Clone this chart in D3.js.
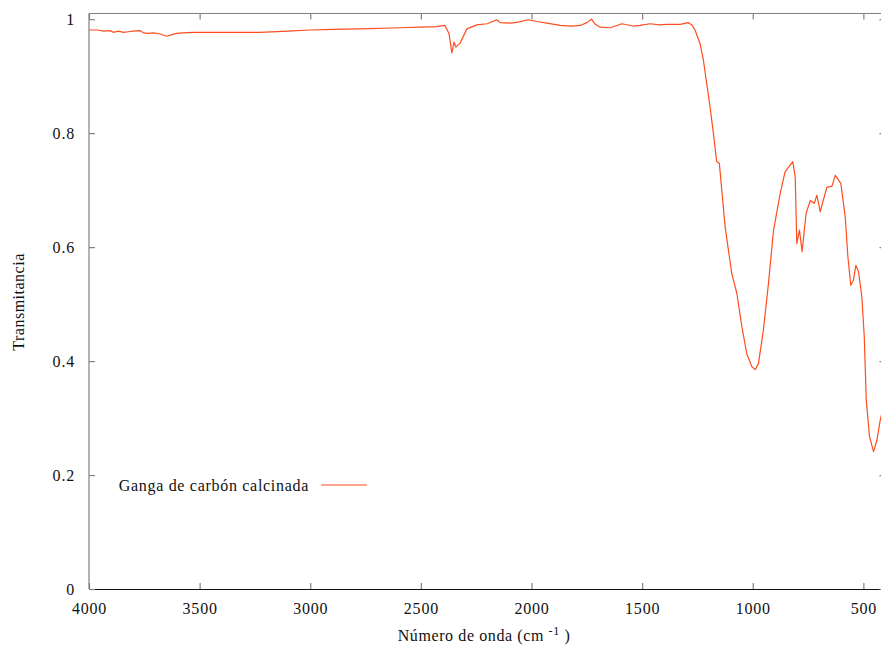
<!DOCTYPE html>
<html>
<head>
<meta charset="utf-8">
<script src="https://cdn.jsdelivr.net/npm/d3@7"></script>
<style>
  html, body { margin: 0; padding: 0; background: #fff; }
  svg { display: block; }
  text { font-family: "Liberation Serif", "DejaVu Serif", serif; fill: #111; }
</style>
</head>
<body>
<svg id="chart" width="881" height="647"></svg>
<script>
// FTIR spectrum of calcined coal gangue
const seriesName = "Ganga de carbón calcinada";
const wavenumber = [
  4000, 3960, 3935, 3905, 3890, 3867, 3845, 3822, 3800, 3769, 3754, 3732, 3709, 3679, 3649,
  3626, 3604, 3574, 3528, 3400, 3227, 3100, 3001, 2900, 2775, 2594, 2504, 2430, 2391,
  2373, 2360, 2350, 2342, 2323, 2292, 2247, 2200, 2157, 2142, 2097, 2060, 2015, 1976, 1930,
  1871, 1820, 1780, 1750, 1729, 1712, 1690, 1645, 1620, 1592, 1541, 1510, 1464, 1420, 1388,
  1328, 1292, 1275, 1261, 1238, 1223, 1208, 1193, 1178, 1163, 1151, 1125, 1095, 1072, 1049,
  1027, 1004, 989, 974, 952, 929, 906, 876, 854, 831, 819, 808, 801, 789, 777,
  759, 740, 722, 710, 695, 685, 665, 642, 627, 602, 582, 570, 557, 545, 534,
  522, 507, 496, 487, 472, 454, 439, 424, 410
];
const transmittance = [
  0.981, 0.981, 0.979, 0.980, 0.977, 0.979, 0.977, 0.978, 0.979, 0.980, 0.976, 0.975, 0.976, 0.974, 0.970,
  0.973, 0.975, 0.976, 0.977, 0.977, 0.977, 0.979, 0.981, 0.982, 0.983, 0.985, 0.986, 0.987, 0.989,
  0.975, 0.941, 0.960, 0.951, 0.958, 0.983, 0.990, 0.992, 0.999, 0.994, 0.993, 0.995, 0.999, 0.996, 0.993,
  0.989, 0.988, 0.989, 0.994, 1.000, 0.991, 0.986, 0.985, 0.988, 0.992, 0.988, 0.989, 0.992, 0.990, 0.991,
  0.991, 0.994, 0.990, 0.981, 0.957, 0.928, 0.887, 0.846, 0.800, 0.750, 0.747, 0.636, 0.554, 0.519, 0.460,
  0.413, 0.390, 0.385, 0.396, 0.454, 0.536, 0.630, 0.694, 0.732, 0.744, 0.750, 0.723, 0.606, 0.630, 0.592,
  0.659, 0.682, 0.677, 0.691, 0.662, 0.677, 0.705, 0.707, 0.726, 0.712, 0.653, 0.583, 0.533, 0.542, 0.568,
  0.557, 0.513, 0.443, 0.332, 0.267, 0.241, 0.261, 0.296, 0.320
];
const xTicks = [4000, 3500, 3000, 2500, 2000, 1500, 1000, 500];
const yTicks = [0, 0.2, 0.4, 0.6, 0.8, 1];

const data = wavenumber.map((w, i) => ({ w, t: transmittance[i] }));

const svg = d3.select("#chart");
const plotLeft = 89, plotRight = 885.5, plotTop = 13.5, plotBottom = 589;

const x = d3.scaleLinear().domain([4000, 400]).range([plotLeft, plotRight]);
const y = d3.scaleLinear().domain([0, 1.01]).range([plotBottom, plotTop]);

const frameColor = "#808080";
const tickLen = 6;

// frame
svg.append("line").attr("x1", plotLeft).attr("x2", plotLeft).attr("y1", plotTop).attr("y2", plotBottom)
  .attr("stroke", frameColor).attr("stroke-width", 1.2);
svg.append("line").attr("x1", plotLeft).attr("x2", plotRight).attr("y1", plotTop).attr("y2", plotTop)
  .attr("stroke", frameColor).attr("stroke-width", 1.2);
svg.append("line").attr("x1", plotRight).attr("x2", plotRight).attr("y1", plotTop).attr("y2", plotBottom)
  .attr("stroke", frameColor).attr("stroke-width", 1.2);

// bottom axis
const xAxis = d3.axisBottom(x).tickValues(xTicks).tickSizeInner(-tickLen).tickSizeOuter(0)
  .tickPadding(14).tickFormat(d3.format("d"));
const gx = svg.append("g").attr("transform", `translate(0,${plotBottom})`).call(xAxis);
gx.select(".domain").attr("stroke", "#111").attr("stroke-width", 1.2);
gx.selectAll(".tick line").attr("stroke", frameColor).attr("stroke-width", 1.2);
gx.selectAll(".tick text").attr("font-size", 16).attr("letter-spacing", "0.8px")
  .attr("font-family", "Liberation Serif").attr("fill", "#111");

// top ticks
const xTop = d3.axisTop(x).tickValues(xTicks).tickSizeInner(-tickLen).tickSizeOuter(0).tickFormat("");
const gxt = svg.append("g").attr("transform", `translate(0,${plotTop})`).call(xTop);
gxt.select(".domain").remove();
gxt.selectAll(".tick line").attr("stroke", frameColor).attr("stroke-width", 1.2);

// left axis
const yAxis = d3.axisLeft(y).tickValues(yTicks).tickSizeInner(-tickLen).tickSizeOuter(0)
  .tickPadding(14).tickFormat(d => d === 0 || d === 1 ? d3.format("d")(d) : d3.format(".1f")(d));
const gy = svg.append("g").attr("transform", `translate(${plotLeft},0)`).call(yAxis);
gy.select(".domain").remove();
gy.selectAll(".tick line").attr("stroke", frameColor).attr("stroke-width", 1.2);
gy.selectAll(".tick text").attr("font-size", 16).attr("letter-spacing", "0.8px")
  .attr("font-family", "Liberation Serif").attr("fill", "#111");

// right ticks
const yRight = d3.axisRight(y).tickValues(yTicks).tickSizeInner(-tickLen).tickSizeOuter(0).tickFormat("");
const gyr = svg.append("g").attr("transform", `translate(${plotRight},0)`).call(yRight);
gyr.select(".domain").remove();
gyr.selectAll(".tick line").attr("stroke", frameColor).attr("stroke-width", 1.2);

// axis titles
const xt = svg.append("text").attr("x", 484).attr("y", 641).attr("text-anchor", "middle")
  .attr("font-size", 16).attr("letter-spacing", "0.6px");
xt.append("tspan").text("Número de onda (cm ");
xt.append("tspan").attr("font-size", 12).attr("dy", -6).text("-1");
xt.append("tspan").attr("dy", 6).text(" )");

svg.append("text").attr("transform", "translate(24,302) rotate(-90)")
  .attr("text-anchor", "middle").attr("font-size", 16).attr("letter-spacing", "0.5px")
  .text("Transmitancia");

// spectrum
svg.append("defs").append("clipPath").attr("id", "plotClip")
  .append("rect").attr("x", plotLeft).attr("y", plotTop)
  .attr("width", plotRight - plotLeft).attr("height", plotBottom - plotTop);

const line = d3.line().x(d => x(d.w)).y(d => y(d.t));
svg.append("path").datum(data).attr("d", line).attr("clip-path", "url(#plotClip)")
  .attr("fill", "none").attr("stroke", "#ff4d1f").attr("stroke-width", 1.2)
  .attr("stroke-linejoin", "round");

// legend
svg.append("text").attr("x", 309).attr("y", 491).attr("text-anchor", "end")
  .attr("font-size", 16).attr("letter-spacing", "0.7px").text(seriesName);
svg.append("line").attr("x1", 321).attr("x2", 367).attr("y1", 485).attr("y2", 485)
  .attr("stroke", "#ff4d1f").attr("stroke-width", 1.2);
</script>
</body>
</html>
